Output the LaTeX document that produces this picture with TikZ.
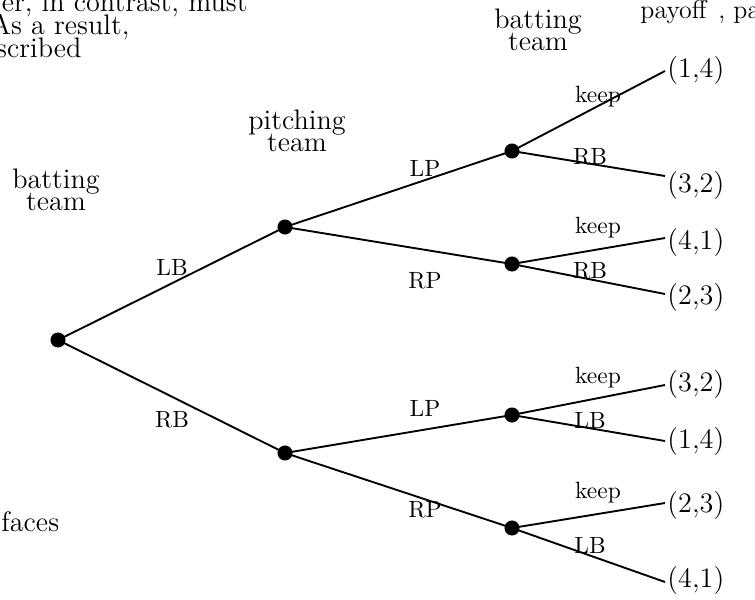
\documentclass[tikz,border=0pt]{standalone}
\newcommand{\tightlines}{\lineskiplimit=-100pt\relax}
\begin{document}
\begin{tikzpicture}[x=0.4255pt,y=-0.4255pt,
  dot/.style={circle,fill=black,inner sep=0pt,minimum size=6.4pt},
  edge/.style={line width=0.8pt},
  lbl/.style={font=\fontsize{10}{12}\selectfont,inner sep=0pt},
  big/.style={font=\fontsize{12}{9.5}\selectfont\tightlines,inner sep=0pt,align=center},
  pay/.style={font=\fontsize{12}{14}\selectfont,inner sep=0pt,anchor=west},
  body/.style={font=\fontsize{12}{14}\selectfont,inner sep=0pt},
  hdr/.style={font=\fontsize{11}{13}\selectfont,inner sep=0pt,anchor=base west}]
\useasboundingbox (0,0) rectangle (755,599);
% background text fragments
\node[body,anchor=base east] (t1) at (248,11) {er, in contrast, must};
\node[body,anchor=base east] (t2) at (130,34) {As a result,};
\node[body,anchor=base east] (t3) at (82,57) {scribed};
\node[body,anchor=base west] (t4) at (1,531) {faces};
\node[hdr] (hdr1) at (640,18) {payoff\hspace{5pt},};
\node[hdr] (hdr2) at (733,18) {pa};
% players
\node[big] (pl1) at (56,190) {batting\\team};
\node[big] (pl2) at (297,131) {pitching\\team};
\node[big] (pl3) at (538,30) {batting\\team};
% decision nodes
\node[dot] (root) at (58,340) {};
\node[dot] (p1) at (285,227) {};
\node[dot] (p2) at (285,453) {};
\node[dot] (b1) at (512,151) {};
\node[dot] (b2) at (512,264) {};
\node[dot] (b3) at (512,415) {};
\node[dot] (b4) at (512,528) {};
% leaf ends
\coordinate (e1) at (665,71);
\coordinate (e2) at (665,176);
\coordinate (e3) at (665,238);
\coordinate (e4) at (665,294);
\coordinate (e5) at (665,385);
\coordinate (e6) at (665,441);
\coordinate (e7) at (665,503);
\coordinate (e8) at (665,582);
% edges
\draw[edge] (root.center) -- (p1.center);
\draw[edge] (root.center) -- (p2.center);
\draw[edge] (p1.center) -- (b1.center);
\draw[edge] (p1.center) -- (b2.center);
\draw[edge] (p2.center) -- (b3.center);
\draw[edge] (p2.center) -- (b4.center);
\draw[edge] (b1.center) -- (e1);
\draw[edge] (b1.center) -- (e2);
\draw[edge] (b2.center) -- (e3);
\draw[edge] (b2.center) -- (e4);
\draw[edge] (b3.center) -- (e5);
\draw[edge] (b3.center) -- (e6);
\draw[edge] (b4.center) -- (e7);
\draw[edge] (b4.center) -- (e8);
% edge labels
\node[lbl] (lLB) at (172,267) {LB};
\node[lbl] (lRB) at (172,420) {RB};
\node[lbl] (lLP1) at (425,168) {LP};
\node[lbl] (lRP1) at (425,281) {RP};
\node[lbl] (lLP2) at (425,408) {LP};
\node[lbl] (lRP2) at (425,510) {RP};
\node[lbl] (k1) at (598,97) {keep};
\node[lbl] (r1) at (590,157) {RB};
\node[lbl] (k2) at (598,228) {keep};
\node[lbl] (r2) at (590,271) {RB};
\node[lbl] (k3) at (598,378) {keep};
\node[lbl] (r3) at (590,420) {LB};
\node[lbl] (k4) at (598,493) {keep};
\node[lbl] (r4) at (590,545) {LB};
% payoffs
\node[pay] (v1) at (667,70) {(1,4)};
\node[pay] (v2) at (667,185) {(3,2)};
\node[pay] (v3) at (667,242) {(4,1)};
\node[pay] (v4) at (667,297) {(2,3)};
\node[pay] (v5) at (667,384) {(3,2)};
\node[pay] (v6) at (667,441) {(1,4)};
\node[pay] (v7) at (667,505) {(2,3)};
\node[pay] (v8) at (667,580) {(4,1)};
\end{tikzpicture}
\end{document}
